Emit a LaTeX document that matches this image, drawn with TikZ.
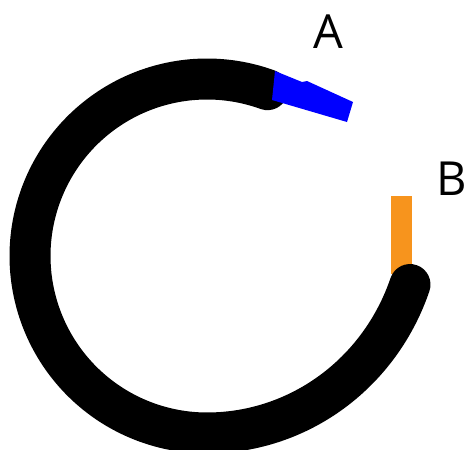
\documentclass[tikz,border=0pt]{standalone}
\usepackage{fontspec}
\setmainfont{Open Sans}
\definecolor{wireorange}{RGB}{247,148,29}
\tikzset{
  wire/.style={black, line width=41pt, line cap=round, line join=round},
  endtag/.style={anchor=base, inner sep=0pt, font=\fontsize{47}{50}\selectfont}
}
\begin{document}
\begin{tikzpicture}[x=1pt, y=-1pt]
                \useasboundingbox (0,0) rectangle (467,450);
                \path (207,256) coordinate (C);
                \path (391,196) coordinate (Otop);
                \path (412,274) coordinate (Obot);
                \fill[wireorange] (Otop) rectangle (Obot);
                \draw[wire, domain=70:352, samples=120, smooth] plot ({207+(177+28*(max(0,(\x-270)/82))^2)*cos(\x)}, {256-(177+28*(max(0,(\x-270)/82))^2)*sin(\x)});
                \fill[blue] (275,71) -- (302,82) -- (307,81) -- (353,102) -- (347,122) -- (272,100) -- cycle;
                \node[endtag] (A) at (328,48) {A};
                \node[endtag] (B) at (452,195) {B};
            \end{tikzpicture}
\end{document}
